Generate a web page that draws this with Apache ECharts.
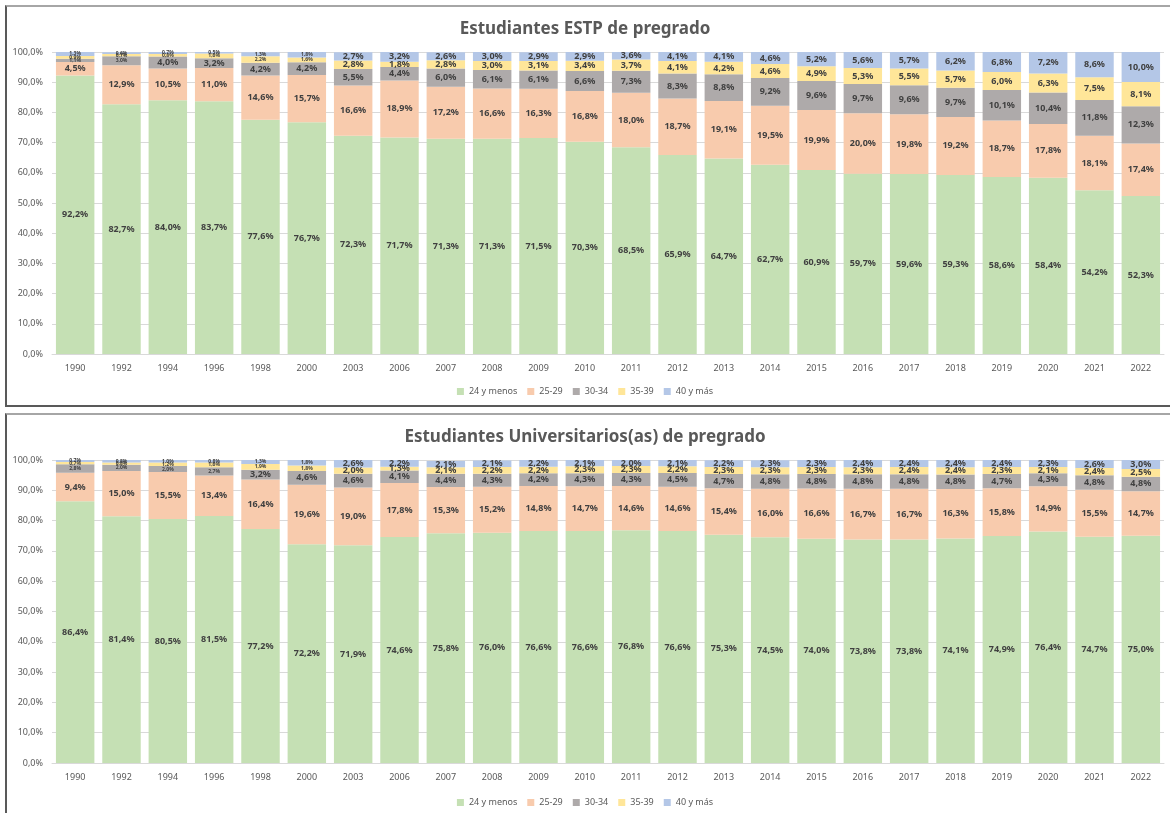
<!DOCTYPE html>
<html>
<head>
<meta charset="UTF-8">
<title>Estudiantes de pregrado</title>
<script src="https://cdn.jsdelivr.net/npm/echarts@6/dist/echarts.min.js"></script>
<style>
body{margin:0;background:#fff;}
.panel{position:absolute;left:5px;width:1170px;border-top:2px solid #a6a6a6;border-left:2px solid #595959;border-bottom:2px solid #595959;box-sizing:border-box;}
#main{position:absolute;left:0;top:0;width:1170px;height:813px;}
</style>
</head>
<body>
<div class="panel" style="top:5px;height:402px;"></div>
<div class="panel" style="top:413px;height:405px;"></div>
<div id="main"></div>
<script type="text/javascript">
var years = ['1990','1992','1994','1996','1998','2000','2003','2006','2007','2008','2009','2010','2011','2012','2013','2014','2015','2016','2017','2018','2019','2020','2021','2022'];
var groups = ['24 y menos','25-29','30-34','35-39','40 y más'];
var colors = ['#C5E0B4','#F8CBAD','#AEAAAA','#FFE699','#B4C7E7'];

// Estudiantes ESTP
var estp24 = [92.2,82.7,84.0,83.7,77.6,76.7,72.3,71.7,71.3,71.3,71.5,70.3,68.5,65.9,64.7,62.7,60.9,59.7,59.6,59.3,58.6,58.4,54.2,52.3];
var estp25 = [4.5,12.9,10.5,11.0,14.6,15.7,16.6,18.9,17.2,16.6,16.3,16.8,18.0,18.7,19.1,19.5,19.9,20.0,19.8,19.2,18.7,17.8,18.1,17.4];
var estp30 = [1.1,3.0,4.0,3.2,4.2,4.2,5.5,4.4,6.0,6.1,6.1,6.6,7.3,8.3,8.8,9.2,9.6,9.7,9.6,9.7,10.1,10.4,11.8,12.3];
var estp35 = [0.9,0.7,0.8,1.6,2.2,1.6,2.8,1.8,2.8,3.0,3.1,3.4,3.7,4.1,4.2,4.6,4.9,5.3,5.5,5.7,6.0,6.3,7.5,8.1];
var estp40 = [1.3,0.6,0.7,0.5,1.3,1.8,2.7,3.2,2.6,3.0,2.9,2.9,3.6,4.1,4.1,4.6,5.2,5.6,5.7,6.2,6.8,7.2,8.6,10.0];

// Estudiantes Universitarios(as)
var univ24 = [86.4,81.4,80.5,81.5,77.2,72.2,71.9,74.6,75.8,76.0,76.6,76.6,76.8,76.6,75.3,74.5,74.0,73.8,73.8,74.1,74.9,76.4,74.7,75.0];
var univ25 = [9.4,15.0,15.5,13.4,16.4,19.6,19.0,17.8,15.3,15.2,14.8,14.7,14.6,14.6,15.4,16.0,16.6,16.7,16.7,16.3,15.8,14.9,15.5,14.7];
var univ30 = [2.8,2.0,2.0,2.7,3.2,4.6,4.6,4.1,4.4,4.3,4.2,4.3,4.3,4.5,4.7,4.8,4.8,4.8,4.8,4.8,4.7,4.3,4.8,4.8];
var univ35 = [0.7,0.8,1.2,1.6,1.9,1.8,2.0,1.3,2.1,2.2,2.2,2.3,2.3,2.2,2.3,2.3,2.3,2.3,2.4,2.4,2.3,2.1,2.4,2.5];
var univ40 = [0.7,0.8,1.0,0.8,1.3,1.8,2.6,2.2,2.1,2.1,2.2,2.1,2.0,2.1,2.2,2.3,2.3,2.4,2.4,2.4,2.4,2.3,2.6,3.0];

var estp = [estp24,estp25,estp30,estp35,estp40];
var univ = [univ24,univ25,univ30,univ35,univ40];

function pct(v){ return v.toFixed(1).replace('.',',') + '%'; }

var txt = '#595959';
var fam = 'Noto Sans';

function makeSeries(sets, idx, stackName){
  var out = [];
  for (var i = 0; i < sets.length; i++) {
    var d = [];
    for (var j = 0; j < sets[i].length; j++) {
      var small = (j < 6 && sets[i][j] < 3.1);
      d.push({
        value: sets[i][j],
        label: { fontSize: small ? 5 : 9 }
      });
    }
    out.push({
      name: groups[i],
      type: 'bar',
      stack: stackName,
      xAxisIndex: idx,
      yAxisIndex: idx,
      barCategoryGap: '17%',
      itemStyle: { color: colors[i] },
      label: {
        show: true,
        position: 'inside',
        color: '#404040',
        fontWeight: 'bold',
        fontFamily: fam,
        formatter: function(p){ return pct(p.value); }
      },
      emphasis: { disabled: true },
      data: d
    });
  }
  return out;
}

function xAx(idx){
  return {
    type: 'category', gridIndex: idx, data: years,
    axisLine: { lineStyle: { color: '#D9D9D9' } },
    axisTick: { show: false },
    axisLabel: { color: txt, fontSize: 9, fontFamily: fam, margin: 10 }
  };
}
function yAx(idx){
  return {
    type: 'value', gridIndex: idx, min: 0, max: 100, interval: 10,
    axisLine: { show: false }, axisTick: { show: false },
    splitLine: { lineStyle: { color: '#D9D9D9' } },
    axisLabel: { color: txt, fontSize: 9, fontFamily: fam, margin: 9, formatter: function(v){ return pct(v); } }
  };
}

var myChart = echarts.init(document.getElementById('main'));
var option = {
  animation: false,
  title: [
    { text: 'Estudiantes ESTP de pregrado', left: 'center', top: 16, textStyle: { color: txt, fontSize: 17, fontWeight: 'bold', fontFamily: fam } },
    { text: 'Estudiantes Universitarios(as) de pregrado', left: 'center', top: 424, textStyle: { color: txt, fontSize: 17, fontWeight: 'bold', fontFamily: fam } }
  ],
  legend: [
    { data: groups, top: 382, left: 'center', itemWidth: 7, itemHeight: 7, itemGap: 10, icon: 'rect', textStyle: { color: txt, fontSize: 9, fontFamily: fam }, selectedMode: false },
    { data: groups, top: 793, left: 'center', itemWidth: 7, itemHeight: 7, itemGap: 10, icon: 'rect', textStyle: { color: txt, fontSize: 9, fontFamily: fam }, selectedMode: false }
  ],
  grid: [
    { left: 52, top: 52, width: 1112, height: 302 },
    { left: 52, top: 460, width: 1112, height: 303 }
  ],
  xAxis: [xAx(0), xAx(1)],
  yAxis: [yAx(0), yAx(1)],
  series: makeSeries(estp, 0, 'a').concat(makeSeries(univ, 1, 'b'))
};
myChart.setOption(option);
</script>
</body>
</html>
